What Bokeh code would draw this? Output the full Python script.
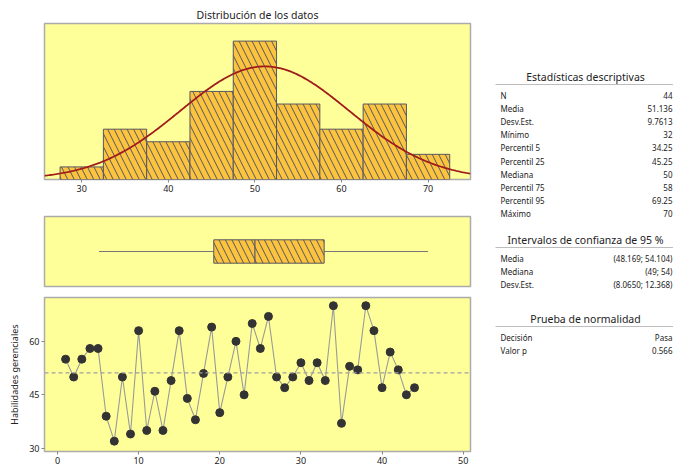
import numpy as np
from bokeh.plotting import figure
from bokeh.layouts import row, column
from bokeh.models import Range1d, FixedTicker, Span
from bokeh.embed import file_html
from bokeh.resources import INLINE
from bokeh.core.properties import value

# ---------------- data ----------------
observation = list(range(1, 45))
scores = [55, 50, 55, 58, 58, 39, 32, 50, 34, 63, 35, 46, 35, 49, 63, 44, 38, 51,
          64, 40, 50, 60, 45, 65, 58, 67, 50, 47, 50, 54, 49, 54, 49, 70, 37, 53,
          52, 70, 63, 47, 57, 52, 45, 47]
bin_centers = [30, 35, 40, 45, 50, 55, 60, 65, 70]
bin_counts = [1, 4, 3, 7, 11, 6, 4, 6, 2]
bin_width = 5
n_obs = 44
mean_val = 51.136
sd_val = 9.7613
box_min, box_q1, box_median, box_q3, box_max = 32, 45.25, 50, 58, 70

desc_labels = ["N", "Media", "Desv.Est.", "Mínimo", "Percentil 5", "Percentil 25",
               "Mediana", "Percentil 75", "Percentil 95", "Máximo"]
desc_values = ["44", "51.136", "9.7613", "32", "34.25", "45.25", "50", "58", "69.25", "70"]
ci_labels = ["Media", "Mediana", "Desv.Est."]
ci_values = ["(48.169; 54.104)", "(49; 54)", "(8.0650; 12.368)"]
norm_labels = ["Decisión", "Valor p"]
norm_values = ["Pasa", "0.566"]

# ---------------- style ----------------
BG = "#FFFF99"
BAR = "#FBC33E"
EDGE = "#575763"
OUTLINE = "#ABABAB"
FONT = "Noto Sans"
TXT = "#222222"


def style_frame(p):
    p.background_fill_color = BG
    p.border_fill_color = "white"
    p.outline_line_color = OUTLINE
    p.outline_line_width = 1.5
    p.grid.visible = False


def style_axis(ax):
    ax.axis_line_color = None
    ax.major_tick_line_color = "#888888"
    ax.major_tick_in = 0
    ax.major_tick_out = 3
    ax.minor_tick_line_color = None
    ax.major_label_text_font = FONT
    ax.major_label_text_font_size = "9px"
    ax.major_label_text_color = TXT
    ax.major_label_standoff = 2


x_rng = Range1d(25.7, 74.9)

# ---------------- histogram ----------------
h = figure(width=480, height=200, x_range=x_rng, y_range=Range1d(0, 12.4),
           output_backend="svg", toolbar_location=None,
           min_border_left=44, min_border_right=10, min_border_top=23, min_border_bottom=21)
style_frame(h)
h.title.text = "Distribución de los datos"
h.title.align = "center"
h.title.text_font = FONT
h.title.text_font_size = "10.5px"
h.title.text_font_style = "normal"
h.title.text_color = TXT
h.title.standoff = 3
h.yaxis.visible = False
h.xaxis.ticker = FixedTicker(ticks=[30, 40, 50, 60, 70])
style_axis(h.xaxis[0])
h.vbar(x=bin_centers, top=bin_counts, width=bin_width, bottom=0,
       fill_color=BAR, line_color=EDGE, line_width=1,
       hatch_pattern="\\", hatch_color=EDGE, hatch_scale=13, hatch_weight=1)
xs = np.linspace(25.7, 74.9, 300)
ys = n_obs * bin_width * np.exp(-0.5 * ((xs - mean_val) / sd_val) ** 2) / (sd_val * np.sqrt(2 * np.pi))
h.line(xs, ys, line_color="#A01C1C", line_width=1.8)

# ---------------- boxplot ----------------
b = figure(width=480, height=90, x_range=x_rng, y_range=Range1d(0, 1),
           output_backend="svg", toolbar_location=None,
           min_border_left=44, min_border_right=10, min_border_top=16, min_border_bottom=4)
style_frame(b)
b.axis.visible = False
b.segment(x0=[box_min, box_q3], y0=[0.5, 0.5], x1=[box_q1, box_max], y1=[0.5, 0.5],
          line_color="#777777", line_width=1.2)
b.quad(left=[box_q1], right=[box_q3], bottom=[0.333], top=[0.667],
       fill_color=BAR, line_color=EDGE, line_width=1,
       hatch_pattern="\\", hatch_color=EDGE, hatch_scale=13, hatch_weight=1)
b.segment(x0=[box_median], y0=[0.333], x1=[box_median], y1=[0.667],
          line_color=EDGE, line_width=1.2)

# ---------------- time series ----------------
t = figure(width=480, height=176, x_range=Range1d(-1.6, 50.9), y_range=Range1d(29.1, 72.3),
           output_backend="svg", toolbar_location=None,
           min_border_left=44, min_border_right=10, min_border_top=7, min_border_bottom=14)
style_frame(t)
t.xaxis.ticker = FixedTicker(ticks=[0, 10, 20, 30, 40, 50])
t.yaxis.ticker = FixedTicker(ticks=[30, 45, 60])
style_axis(t.xaxis[0])
style_axis(t.yaxis[0])
t.yaxis.axis_label = "Habilidades gerenciales"
t.yaxis.axis_label_text_font = FONT
t.yaxis.axis_label_text_font_size = "9px"
t.yaxis.axis_label_text_font_style = "normal"
t.yaxis.axis_label_text_color = TXT
t.yaxis.axis_label_standoff = 5
t.add_layout(Span(location=mean_val, dimension="width", line_color="#A0A0A0",
                  line_dash="4 3", line_width=1.2))
t.line(observation, scores, line_color="#9A9A9A", line_width=1.1)
t.scatter(observation, scores, size=8, fill_color="#333333", line_color="#333333")

# ---------------- tables ----------------
tb = figure(width=193, height=466, x_range=Range1d(0, 193), y_range=Range1d(466, 0),
            output_backend="svg", toolbar_location=None,
            min_border_left=0, min_border_right=0, min_border_top=0, min_border_bottom=0)
tb.axis.visible = False
tb.grid.visible = False
tb.outline_line_color = None
tb.background_fill_color = "white"
tb.border_fill_color = "white"

LX, RX, CX, X0 = 20, 192, 105, 15
ROW = 13.1


def section(title, title_y, labels, vals):
    tb.text(x=[CX], y=[title_y], text=[title], text_font=value(FONT), text_font_size="10.5px",
            text_align="center", text_baseline="middle", text_color=TXT)
    tb.segment(x0=[X0], y0=[title_y + 8], x1=[193], y1=[title_y + 8],
               line_color="#BDBDBD", line_width=1.2)
    ys_ = [title_y + 19 + i * ROW for i in range(len(labels))]
    tb.text(x=[LX] * len(labels), y=ys_, text=labels, text_font=value(FONT),
            text_font_size="8px", text_align="left", text_baseline="middle", text_color=TXT)
    tb.text(x=[RX] * len(vals), y=ys_, text=vals, text_font=value(FONT),
            text_font_size="8px", text_align="right", text_baseline="middle", text_color=TXT)


section("Estadísticas descriptivas", 76, desc_labels, desc_values)
section("Intervalos de confianza de 95 %", 239, ci_labels, ci_values)
section("Prueba de normalidad", 318, norm_labels, norm_values)

layout = row(column(h, b, t), tb)
open("out.html", "w").write(file_html(layout, INLINE))
